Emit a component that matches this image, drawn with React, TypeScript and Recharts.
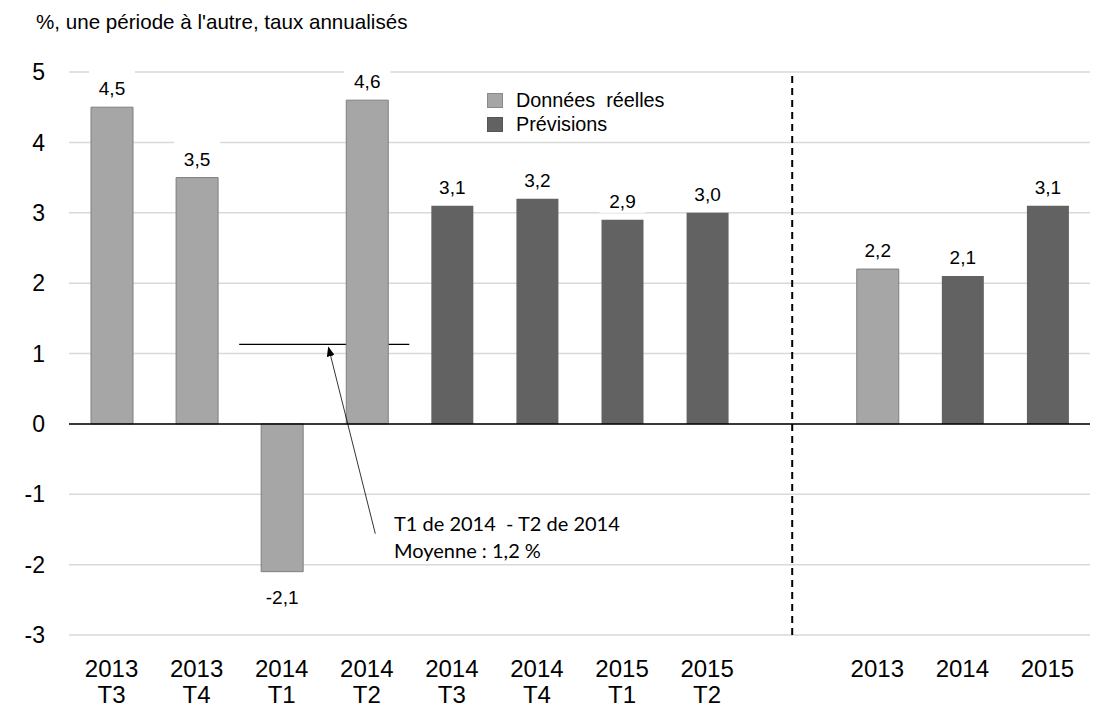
import React from 'react'
import {
  BarChart,
  Bar,
  XAxis,
  YAxis,
  CartesianGrid,
  ReferenceLine,
  ReferenceArea,
  LabelList,
} from 'recharts'

const CATEGORIES = ['2013T3', '2013T4', '2014T1', '2014T2', '2014T3', '2014T4', '2015T1', '2015T2', 'gap', '2013', '2014', '2015']
const TICK_TOP = ['2013', '2013', '2014', '2014', '2014', '2014', '2015', '2015', '', '2013', '2014', '2015']
const TICK_BOTTOM = ['T3', 'T4', 'T1', 'T2', 'T3', 'T4', 'T1', 'T2', '', '', '', '']
const ACTUAL = [4.5, 3.5, -2.1, 4.6, null, null, null, null, null, 2.2, null, null]
const FORECAST = [null, null, null, null, 3.1, 3.2, 2.9, 3.0, null, null, 2.1, 3.1]
const Y_TICKS = [-3, -2, -1, 0, 1, 2, 3, 4, 5]
const AVG_LEVEL = 1.13

const FONT = '"Liberation Sans", Arial, sans-serif'
const LIGHT = '#a6a6a6'
const DARK = '#626262'

// layout of the plot, shared with the annotation overlay
const W = 1100
const H = 720
const PLOT_LEFT = 69
const PLOT_RIGHT = 1090
const PLOT_TOP = 72
const PLOT_BOTTOM = 635

const data = CATEGORIES.map((c, i) => ({ cat: c, actual: ACTUAL[i], forecast: FORECAST[i] }))

const band = (PLOT_RIGHT - PLOT_LEFT) / CATEGORIES.length
const yPx = (v: number) => PLOT_TOP + ((5 - v) / 8) * (PLOT_BOTTOM - PLOT_TOP)

function fmt(v: number) {
  return v.toFixed(1).replace('.', ',')
}

// eslint-disable-next-line @typescript-eslint/no-explicit-any
function ValueLabel({ x, y, width, height, value }: any) {
  if (value == null) return null
  const top = Math.min(y, y + height)
  const bottom = Math.max(y, y + height)
  const ty = value >= 0 ? top - 12 : bottom + 32
  const cx = x + width / 2
  return (
    <g>
      {/* white box behind the label breaks the gridline like the original */}
      <rect x={cx - 23} y={ty - 26} width={46} height={31} fill="#fff" />
      <text x={cx} y={ty} textAnchor="middle" fontSize={19} fontFamily={FONT} fill="#000">
        {fmt(value)}
      </text>
    </g>
  )
}

// eslint-disable-next-line @typescript-eslint/no-explicit-any
function CatTick({ x, y, payload }: any) {
  const i = CATEGORIES.indexOf(payload.value)
  return (
    <text x={x} y={y} textAnchor="middle" fontSize={24} fontFamily={FONT} fill="#000">
      <tspan x={x} y={y + 40}>{TICK_TOP[i]}</tspan>
      <tspan x={x} y={y + 66}>{TICK_BOTTOM[i]}</tspan>
    </text>
  )
}

function Annotation() {
  const tipX = PLOT_LEFT + band * 3.05
  const tipY = yPx(AVG_LEVEL) + 3
  const tailX = PLOT_LEFT + band * 3.6
  const tailY = yPx(-1.56)
  return (
    <svg width={W} height={H} style={{ position: 'absolute', left: 0, top: 0, pointerEvents: 'none' }}>
      <defs>
        <marker id="head" markerWidth="10" markerHeight="8" refX="9" refY="4" orient="auto" markerUnits="userSpaceOnUse">
          <path d="M0,0 L10,4 L0,8 Z" fill="#000" />
        </marker>
      </defs>
      <line x1={tailX} y1={tailY} x2={tipX} y2={tipY} stroke="#000" strokeWidth={0.8} markerEnd="url(#head)" />
      <text x={394} y={531} fontSize={20} fontFamily="Lato, sans-serif" fill="#000" style={{ whiteSpace: 'pre' }}>
        T1 de 2014  - T2 de 2014
      </text>
      <text x={394} y={558} fontSize={20} fontFamily="Lato, sans-serif" fill="#000" style={{ whiteSpace: 'pre' }}>
        Moyenne : 1,2 %
      </text>
    </svg>
  )
}

function LegendBox() {
  const item = (color: string, border: string, label: string) => (
    <div style={{ display: 'flex', alignItems: 'center', height: 24 }}>
      <span style={{ width: 14, height: 13, background: color, border: `1px solid ${border}`, marginRight: 13 }} />
      <span style={{ whiteSpace: 'pre' }}>{label}</span>
    </div>
  )
  return (
    <div style={{ position: 'absolute', left: 487, top: 88, fontFamily: FONT, fontSize: 19.8, color: '#000' }}>
      {item(LIGHT, '#8a8a8a', 'Données  réelles')}
      {item(DARK, '#555', 'Prévisions')}
    </div>
  )
}

export default function App() {
  return (
    <div style={{ position: 'absolute', left: 0, top: 0, width: W, height: H, background: '#fff' }}>
      <div style={{ position: 'absolute', left: 36, top: 10, fontFamily: FONT, fontSize: 20.6, color: '#000' }}>
        %, une période à l'autre, taux annualisés
      </div>
      <BarChart
        width={W}
        height={H}
        data={data}
        margin={{ top: PLOT_TOP, right: W - PLOT_RIGHT, bottom: H - PLOT_BOTTOM - 85, left: 0 }}
        barSize={42}
        stackOffset="sign"
      >
        <CartesianGrid vertical={false} stroke="#d9d9d9" strokeWidth={1.5} />
        <XAxis
          dataKey="cat"
          interval={0}
          tick={<CatTick />}
          tickLine={false}
          axisLine={false}
          tickSize={0}
          height={85}
        />
        <YAxis
          domain={[-3, 5]}
          ticks={Y_TICKS}
          width={PLOT_LEFT}
          tickLine={false}
          axisLine={false}
          tickSize={0}
          tickMargin={24}
          tick={{ fontSize: 23, fill: '#000', fontFamily: FONT }}
        />
        <ReferenceLine y={0} stroke="#000" strokeWidth={1.5} />
        <ReferenceLine x="gap" stroke="#000" strokeWidth={2} strokeDasharray="7 5" />
        <Bar dataKey="actual" stackId="s" fill={LIGHT} stroke="#7f7f7f" strokeWidth={1} isAnimationActive={false}>
          <LabelList dataKey="actual" content={<ValueLabel />} />
        </Bar>
        <Bar dataKey="forecast" stackId="s" fill={DARK} isAnimationActive={false}>
          <LabelList dataKey="forecast" content={<ValueLabel />} />
        </Bar>
        <ReferenceArea x1="2014T1" x2="2014T2" y1={AVG_LEVEL - 0.008} y2={AVG_LEVEL + 0.008} fill="#000" fillOpacity={1} stroke="none" ifOverflow="visible" />
      </BarChart>
      <LegendBox />
      <Annotation />
    </div>
  )
}
